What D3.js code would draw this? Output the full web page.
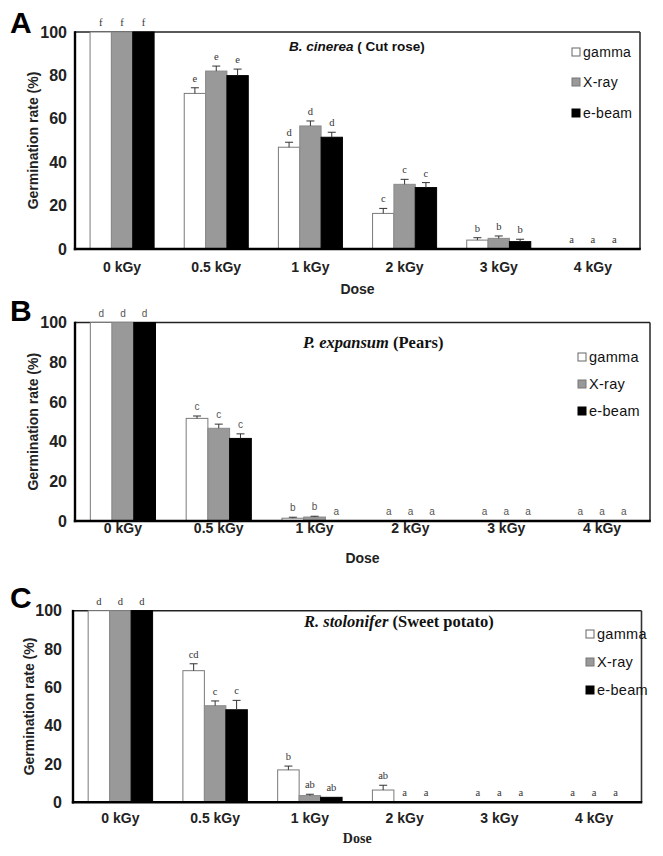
<!DOCTYPE html>
<html>
<head>
<meta charset="utf-8">
<script src="https://cdn.jsdelivr.net/npm/d3@7"></script>
<style>
  html, body { margin: 0; padding: 0; background: #fff; }
  svg { display: block; }
</style>
</head>
<body>
<svg id="chart" width="663" height="856"></svg>
<script>
// ---------- data ----------
const doses = ["0 kGy", "0.5 kGy", "1 kGy", "2 kGy", "3 kGy", "4 kGy"];
const seriesNames = ["gamma", "X-ray", "e-beam"];
const yTicks = [0, 20, 40, 60, 80, 100];

// Panel A: B. cinerea (Cut rose)
const A_gamma = [100, 71.7, 46.9, 16.4, 4.1, 0];
const A_gammaErr = [0, 2.6, 2.3, 2.3, 1.1, 0];
const A_xray = [100, 82.0, 56.7, 29.8, 4.9, 0];
const A_xrayErr = [0, 2.3, 2.3, 2.3, 1.1, 0];
const A_ebeam = [100, 79.9, 51.5, 28.3, 3.4, 0];
const A_ebeamErr = [0, 3.0, 2.3, 2.3, 1.1, 0];
const A_gammaLetters = ["f", "e", "d", "c", "b", "a"];
const A_xrayLetters = ["f", "e", "d", "c", "b", "a"];
const A_ebeamLetters = ["f", "e", "d", "c", "b", "a"];

// Panel B: P. expansum (Pears)
const B_gamma = [100, 51.7, 1.4, 0, 0, 0];
const B_gammaErr = [0, 1.2, 0.5, 0, 0, 0];
const B_xray = [100, 46.7, 2.0, 0, 0, 0];
const B_xrayErr = [0, 2.1, 0.4, 0, 0, 0];
const B_ebeam = [100, 41.6, 0, 0, 0, 0];
const B_ebeamErr = [0, 2.3, 0, 0, 0, 0];
const B_gammaLetters = ["d", "c", "b", "a", "a", "a"];
const B_xrayLetters = ["d", "c", "b", "a", "a", "a"];
const B_ebeamLetters = ["d", "c", "a", "a", "a", "a"];

// Panel C: R. stolonifer (Sweet potato)
const C_gamma = [100, 68.7, 16.9, 6.4, 0, 0];
const C_gammaErr = [0, 3.6, 2.0, 2.5, 0, 0];
const C_xray = [100, 50.4, 3.5, 0, 0, 0];
const C_xrayErr = [0, 2.5, 0.7, 0, 0, 0];
const C_ebeam = [100, 48.3, 2.6, 0, 0, 0];
const C_ebeamErr = [0, 4.9, 0, 0, 0, 0];
const C_gammaLetters = ["d", "cd", "b", "ab", "a", "a"];
const C_xrayLetters = ["d", "c", "ab", "a", "a", "a"];
const C_ebeamLetters = ["d", "c", "ab", "a", "a", "a"];

const yTitle = "Germination rate (%)";
const xTitle = "Dose";

// ---------- layout / style ----------
const fills = { "gamma": "#ffffff", "X-ray": "#999999", "e-beam": "#000000" };
const strokes = { "gamma": "#7a7a7a", "X-ray": "#8a8a8a", "e-beam": "#000000" };
const SANS = "Arial, 'Liberation Sans', sans-serif";
const SERIF = "'Times New Roman', 'Liberation Serif', serif";

const panels = [
  {
    label: "A", left: 75, right: 640, top: 32, bottom: 249, labelY: 33, tickX: 67,
    tickY: 272, doseY: 294, doseFont: SANS, yTitleX: 33,
    titleX: 289, titleY: 51, titleFont: SANS, titleSize: 13.5, titleItalic: "B. cinerea", titleRest: " ( Cut rose)",
    legX: 572, legRows: [52, 82, 113], legSize: 14,
    letterFont: SERIF, letterColor: "#333", letterSize: 10.5,
    series: [
      { name: "gamma", vals: A_gamma, errs: A_gammaErr, letters: A_gammaLetters },
      { name: "X-ray", vals: A_xray, errs: A_xrayErr, letters: A_xrayLetters },
      { name: "e-beam", vals: A_ebeam, errs: A_ebeamErr, letters: A_ebeamLetters }
    ]
  },
  {
    label: "B", left: 75, right: 650, top: 322.5, bottom: 521, labelY: 321, tickX: 67,
    tickY: 533, doseY: 563, doseFont: SANS, yTitleX: 33,
    titleX: 303, titleY: 348, titleFont: SERIF, titleSize: 16.5, titleItalic: "P. expansum", titleRest: " (Pears)",
    legX: 578, legRows: [357, 384, 411], legSize: 14.5,
    letterFont: SANS, letterColor: "#555", letterSize: 10,
    series: [
      { name: "gamma", vals: B_gamma, errs: B_gammaErr, letters: B_gammaLetters },
      { name: "X-ray", vals: B_xray, errs: B_xrayErr, letters: B_xrayLetters },
      { name: "e-beam", vals: B_ebeam, errs: B_ebeamErr, letters: B_ebeamLetters }
    ]
  },
  {
    label: "C", left: 73, right: 641.5, top: 610.7, bottom: 802.3, labelY: 608, tickX: 62,
    tickY: 823, doseY: 843, doseFont: SERIF, yTitleX: 29,
    titleX: 304, titleY: 627, titleFont: SERIF, titleSize: 16.5, titleItalic: "R. stolonifer", titleRest: " (Sweet potato)",
    legX: 586, legRows: [634, 662, 690], legSize: 14.5,
    letterFont: SERIF, letterColor: "#333", letterSize: 10.5,
    series: [
      { name: "gamma", vals: C_gamma, errs: C_gammaErr, letters: C_gammaLetters },
      { name: "X-ray", vals: C_xray, errs: C_xrayErr, letters: C_xrayLetters },
      { name: "e-beam", vals: C_ebeam, errs: C_ebeamErr, letters: C_ebeamLetters }
    ]
  }
];

const svg = d3.select("#chart");

panels.forEach(p => {
  const g = svg.append("g");
  const x = d3.scaleBand().domain(doses).range([p.left, p.right]).padding(0);
  const groupW = x.bandwidth() * 0.68;
  const xs = d3.scaleBand().domain(seriesNames).range([0, groupW]).padding(0);
  const y = d3.scaleLinear().domain([0, 100]).range([p.bottom, p.top]);

  // frame top/right
  g.append("line").attr("x1", p.left).attr("x2", p.right).attr("y1", p.top).attr("y2", p.top)
    .attr("stroke", "#222").attr("stroke-width", 1.6);
  g.append("line").attr("x1", p.right).attr("x2", p.right).attr("y1", p.top).attr("y2", p.bottom)
    .attr("stroke", "#333").attr("stroke-width", 1.6);

  // bars
  p.series.forEach(s => {
    const off = (x.bandwidth() - groupW) / 2 + xs(s.name);
    const data = doses.map((d, i) => ({ d, v: s.vals[i], e: s.errs[i], l: s.letters[i] }));
    g.selectAll(null).data(data.filter(r => r.v > 0)).enter().append("rect")
      .attr("x", r => x(r.d) + off)
      .attr("y", r => y(r.v))
      .attr("width", xs.bandwidth())
      .attr("height", r => y(0) - y(r.v))
      .attr("fill", fills[s.name])
      .attr("stroke", strokes[s.name])
      .attr("stroke-width", 1);
    // error bars
    const eb = data.filter(r => r.e > 0);
    g.selectAll(null).data(eb).enter().append("line")
      .attr("x1", r => x(r.d) + off + xs.bandwidth() / 2)
      .attr("x2", r => x(r.d) + off + xs.bandwidth() / 2)
      .attr("y1", r => y(r.v)).attr("y2", r => y(r.v + r.e))
      .attr("stroke", "#333").attr("stroke-width", 1);
    g.selectAll(null).data(eb).enter().append("line")
      .attr("x1", r => x(r.d) + off + xs.bandwidth() / 2 - 4)
      .attr("x2", r => x(r.d) + off + xs.bandwidth() / 2 + 4)
      .attr("y1", r => y(r.v + r.e)).attr("y2", r => y(r.v + r.e))
      .attr("stroke", "#333").attr("stroke-width", 1);
    // letters
    g.selectAll(null).data(data).enter().append("text")
      .attr("x", r => x(r.d) + off + xs.bandwidth() / 2)
      .attr("y", r => y(r.v + r.e) - 6)
      .attr("text-anchor", "middle")
      .attr("font-family", p.letterFont)
      .attr("font-size", p.letterSize)
      .attr("fill", p.letterColor)
      .text(r => r.l);
  });

  // axes lines (left and bottom)
  g.append("line").attr("x1", p.left).attr("x2", p.left).attr("y1", p.top - 0.8).attr("y2", p.bottom + 1.2)
    .attr("stroke", "#000").attr("stroke-width", 2.4);
  g.append("line").attr("x1", p.left - 1.2).attr("x2", p.right + 0.8).attr("y1", p.bottom).attr("y2", p.bottom)
    .attr("stroke", "#000").attr("stroke-width", 2.4);

  // y tick labels
  const yAxis = g.append("g").attr("transform", `translate(${p.tickX},0)`)
    .call(d3.axisLeft(y).tickValues(yTicks).tickSize(0).tickPadding(0));
  yAxis.select(".domain").remove();
  yAxis.selectAll("text").attr("font-family", SANS).attr("font-weight", "bold")
    .attr("font-size", 16).attr("fill", "#222");

  // x tick labels
  const xAxis = g.append("g").attr("transform", `translate(0,${p.tickY})`)
    .call(d3.axisBottom(x).tickSize(0).tickPadding(0));
  xAxis.select(".domain").remove();
  xAxis.selectAll("text").attr("dy", 0).attr("font-family", SANS).attr("font-weight", "bold")
    .attr("font-size", 14).attr("fill", "#222");

  // axis titles
  g.append("text").attr("x", (p.left + p.right) / 2).attr("y", p.doseY)
    .attr("text-anchor", "middle").attr("font-family", p.doseFont).attr("font-weight", "bold")
    .attr("font-size", 14).attr("fill", "#222").text(xTitle);
  g.append("text")
    .attr("transform", `translate(${p.yTitleX},${(p.top + p.bottom) / 2}) rotate(-90)`)
    .attr("text-anchor", "middle").attr("dy", "0.35em")
    .attr("font-family", SANS).attr("font-weight", "bold").attr("font-size", 14).attr("fill", "#222")
    .text(yTitle);

  // panel letter
  g.append("text").attr("x", 10).attr("y", p.labelY)
    .attr("font-family", SANS).attr("font-weight", "bold").attr("font-size", 30).attr("fill", "#000")
    .text(p.label);

  // title
  const t = g.append("text").attr("x", p.titleX).attr("y", p.titleY)
    .attr("font-family", p.titleFont).attr("font-weight", "bold").attr("font-size", p.titleSize).attr("fill", "#111");
  t.append("tspan").attr("font-style", "italic").text(p.titleItalic);
  t.append("tspan").text(p.titleRest);

  // legend
  seriesNames.forEach((n, i) => {
    const cy = p.legRows[i];
    g.append("rect").attr("x", p.legX).attr("y", cy - 4).attr("width", 8).attr("height", 8)
      .attr("fill", fills[n]).attr("stroke", n === "gamma" ? "#666" : (n === "X-ray" ? "#777" : "#000")).attr("stroke-width", 1);
    g.append("text").attr("x", p.legX + 11).attr("y", cy).attr("dy", "0.36em")
      .attr("font-family", SANS).attr("font-size", p.legSize).attr("letter-spacing", 0.3)
      .attr("fill", "#111").text(n);
  });
});
</script>
</body>
</html>
